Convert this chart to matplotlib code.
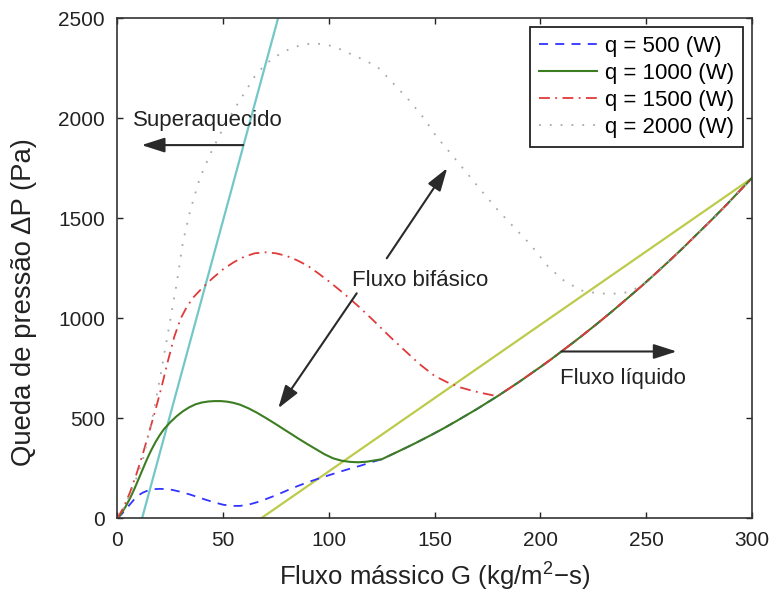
import numpy as np
import matplotlib
matplotlib.use("Agg")
import matplotlib.pyplot as plt

plt.rcParams["font.family"] = ["Liberation Sans", "DejaVu Sans"]
plt.rcParams["mathtext.fontset"] = "custom"
plt.rcParams["mathtext.rm"] = "Liberation Sans"
plt.rcParams["mathtext.it"] = "Liberation Sans:italic"

# Liquid-only branch shared by every heat load (G in kg/m2-s, dP in Pa)
G_LIQ = [125, 130, 135, 141, 148, 154, 160, 165, 170, 175, 180, 185, 190, 195, 200, 205, 210, 215, 220, 227,
         234, 241, 248, 254, 261, 268, 275, 281, 288, 294, 300]
DP_LIQ = [295, 320, 345, 376, 414, 448, 484, 515, 546, 579, 612, 647, 682, 719, 756, 794, 834, 874, 915, 974,
          1035, 1098, 1162, 1219, 1287, 1357, 1430, 1492, 1567, 1634, 1700]

# Two-phase portion of each curve, before it joins the liquid branch
G_500 = [0, 2, 4, 6, 8, 10, 12, 14, 16, 18, 20, 23, 26, 30, 34, 38, 42, 46, 50, 54, 58, 62, 66, 70,
         75, 80, 85, 90, 95, 100, 105, 110, 115, 120]
DP_500 = [0, 20, 45, 70, 95, 115, 128, 137, 143, 146, 147, 146, 142, 132, 120, 106, 92, 79, 68, 62, 62, 68, 80, 95,
          115, 138, 160, 180, 198, 215, 232, 248, 263, 280]

G_1000 = [0, 2, 4, 6, 8, 10, 12, 14, 16, 18, 20, 22, 25, 28, 31, 34, 37, 40, 43, 46, 49, 52, 55, 58,
          62, 66, 70, 74, 78, 82, 86, 90, 94, 98, 102, 106, 110, 114, 118, 122]
DP_1000 = [0, 25, 60, 100, 145, 195, 245, 295, 340, 380, 415, 445, 480, 510, 535, 555, 570, 579, 584, 586, 586,
           583, 577, 568, 550, 528, 503, 477, 450, 423, 396, 370, 345, 320, 300, 288, 282, 280, 283, 290]

G_1500 = [0, 3, 6, 9, 12, 15, 18, 21, 24, 27, 30, 33, 36, 40, 45, 50, 55, 60, 65, 70, 75, 80, 85, 90, 95,
          100, 107, 114, 121, 129, 136, 143, 150, 156, 162, 168, 173, 178]
DP_1500 = [0, 55, 130, 220, 320, 430, 540, 660, 790, 910, 1000, 1060, 1105, 1150, 1200, 1245, 1280, 1308, 1325,
           1330, 1325, 1312, 1290, 1263, 1225, 1185, 1125, 1060, 990, 907, 838, 770, 712, 680, 655, 637, 625, 614]

G_2000 = [0, 4, 8, 12, 16, 20, 24, 28, 31, 34.5, 39, 44, 50, 55, 60, 65, 70, 75, 82, 87, 91, 96, 100, 105, 110,
          117, 123, 130, 138, 145, 151, 158, 165, 172, 180, 188, 195, 204, 211, 219, 227, 234, 241]
DP_2000 = [0, 70, 170, 290, 470, 690, 930, 1170, 1380, 1540, 1700, 1823, 1950, 2040, 2125, 2210, 2270, 2310, 2350,
           2366, 2373, 2372, 2365, 2347, 2323, 2290, 2257, 2180, 2090, 2000, 1907, 1820, 1730, 1640, 1540,
           1450, 1373, 1255, 1190, 1140, 1125, 1122, 1130]

# Boundary lines: superheated limit and liquid limit
G_VAP = [11.7, 76]
DP_VAP = [0, 2500]
G_LIQLIM = [68, 300]
DP_LIQLIM = [0, 1700]

LABELS = ["q = 500 (W)", "q = 1000 (W)", "q = 1500 (W)", "q = 2000 (W)"]


def full_curve(g, dp):
    g = np.asarray(g, float)
    dp = np.asarray(dp, float)
    gl = np.asarray(G_LIQ, float)
    dl = np.asarray(DP_LIQ, float)
    keep = gl > g[-1]
    return np.concatenate([g, gl[keep]]), np.concatenate([dp, dl[keep]])


fig = plt.figure(figsize=(7.75, 6.0), dpi=100, facecolor="white")
ax = fig.add_axes([0.1514, 0.1362, 0.8186, 0.8333])

ax.plot(G_VAP, DP_VAP, color="#74c7c7", lw=1.6)
ax.plot(G_LIQLIM, DP_LIQLIM, color="#bccb4a", lw=1.6)

styles = [
    dict(color="#3333ff", ls=(0, (5, 4)), lw=1.3),
    dict(color="#3d7d22", ls="-", lw=1.5),
    dict(color="#e03a3a", ls=(0, (6, 3, 1, 3)), lw=1.3),
    dict(color="#a8a8a8", ls=(0, (1, 5)), lw=1.3),
]
series = [(G_500, DP_500), (G_1000, DP_1000), (G_1500, DP_1500), (G_2000, DP_2000)]
for (g, dp), lab, st in zip(series, LABELS, styles):
    x, y = full_curve(g, dp)
    ax.plot(x, y, label=lab, **st)

ax.set_xlim(0, 300)
ax.set_ylim(0, 2500)
ax.set_xticks(np.arange(0, 301, 50))
ax.set_yticks(np.arange(0, 2501, 500))
ax.tick_params(direction="in", length=4, width=1, top=True, right=True,
               labelsize=15, colors="#222222", pad=9)
for sp in ax.spines.values():
    sp.set_color("#333333")
    sp.set_linewidth(1.2)

ax.set_xlabel("Fluxo mássico G (kg/m$^{2}$−s)", fontsize=18.5, color="#222222", labelpad=8)
ax.set_ylabel("Queda de pressão ΔP (Pa)", fontsize=19.8, color="#222222")
ax.yaxis.set_label_coords(-0.127, 0.4316)

leg = ax.legend(loc="upper right", bbox_to_anchor=(0.9858, 0.9832), borderaxespad=0,
                fontsize=16, fancybox=False, edgecolor="#222222", framealpha=1,
                handlelength=2.6, handletextpad=0.35, labelspacing=0.28, borderpad=0.4)
leg.get_frame().set_linewidth(1.3)

arrow = dict(arrowstyle="-|>,head_length=1.4,head_width=0.45", color="#2a2a2a", lw=1.5,
             shrinkA=0, shrinkB=0)
ax.annotate("", xy=(11.5, 1866), xytext=(59.5, 1866), arrowprops=arrow)
ax.annotate("", xy=(76.1, 550), xytext=(113.2, 1125), arrowprops=arrow)
ax.annotate("", xy=(156, 1751), xytext=(127.4, 1300), arrowprops=arrow)
ax.annotate("", xy=(264.5, 834), xytext=(210, 834), arrowprops=arrow)

ax.text(42.9, 1991, "Superaquecido", fontsize=16, ha="center", va="center", color="#222222")
ax.text(110.8, 1191, "Fluxo bifásico", fontsize=16, ha="left", va="center", color="#222222")
ax.text(209.3, 700, "Fluxo líquido", fontsize=16, ha="left", va="center", color="#222222")

fig.savefig("out.png", dpi=100, facecolor="white")
